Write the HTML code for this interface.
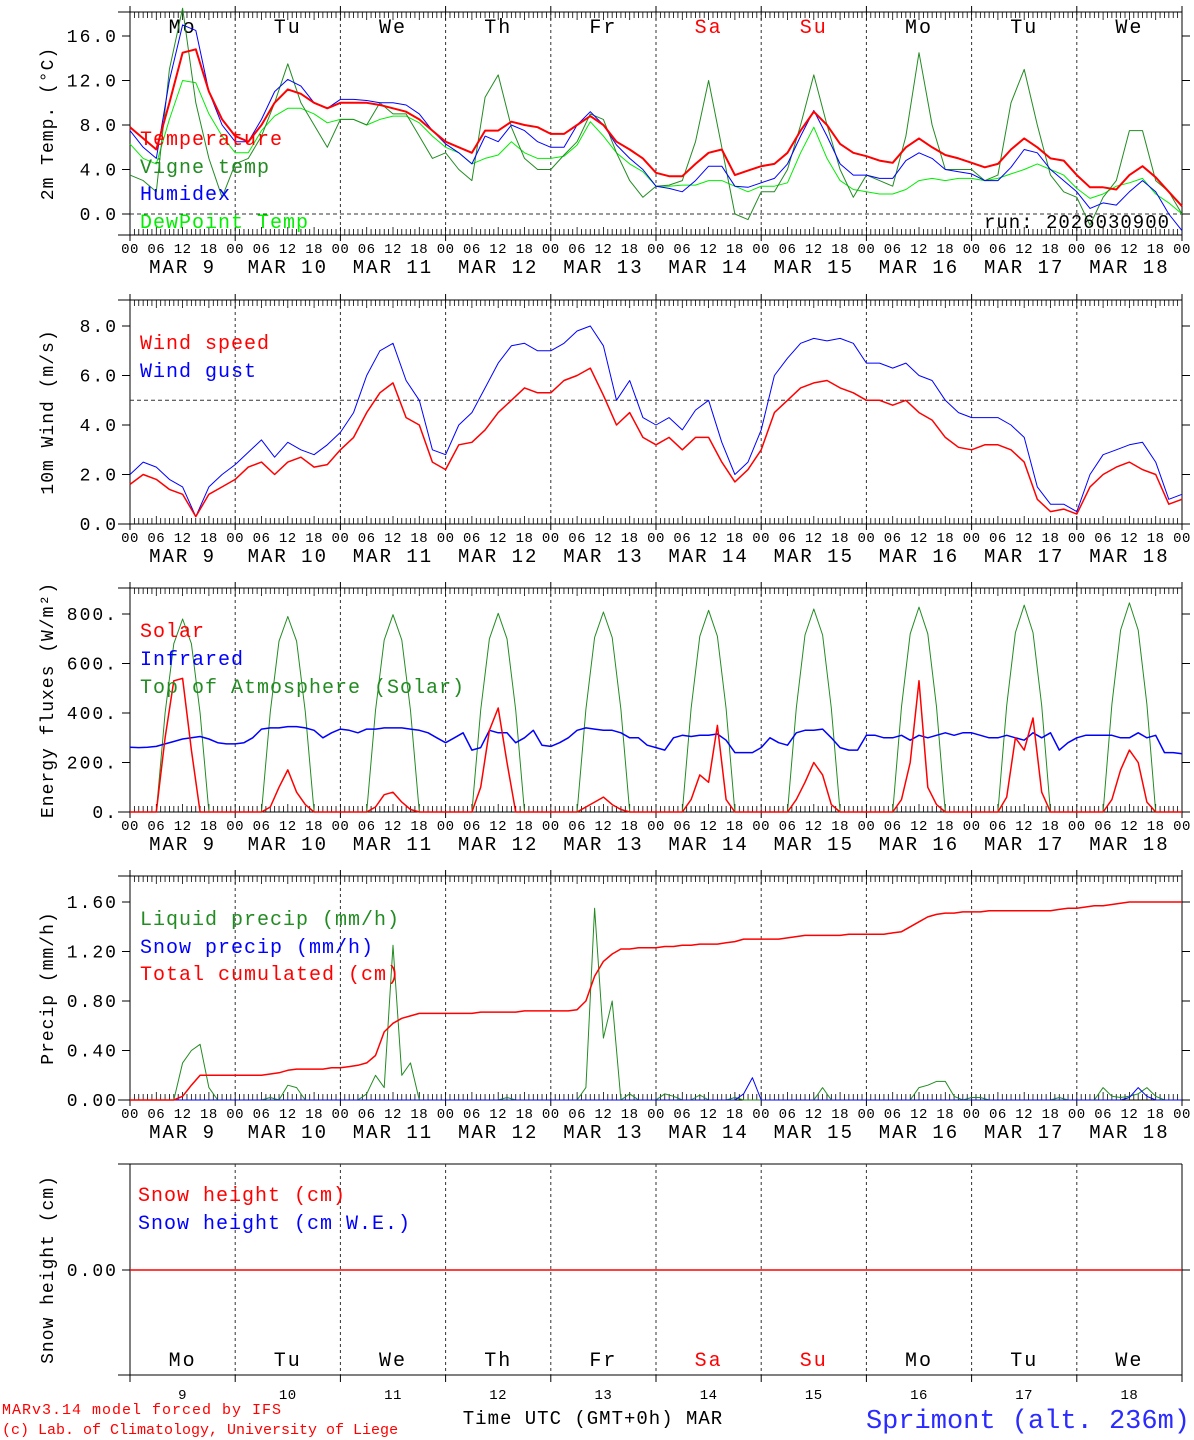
<!DOCTYPE html>
<html><head><meta charset="utf-8"><style>
html,body{margin:0;padding:0;background:#fff;}
svg{display:block;font-family:"Liberation Mono","DejaVu Sans Mono",monospace;}
text{letter-spacing:2px;}
text.lg{letter-spacing:1px;}
text.hl{letter-spacing:0.5px;}
text.n0{letter-spacing:0;}
text.f1{letter-spacing:1px;}
</style></head><body>
<svg id="c" width="1194" height="1440" viewBox="0 0 1194 1440" xmlns="http://www.w3.org/2000/svg"></svg>
<script>
// ---- data (3-hourly, from MAR 9 00 UTC) ----
const tempVals=[7.8,6.8,5.8,10,14.5,14.8,11,8.5, 7.0,6.5,8.0,10.0,11.2,10.8,10.0,9.5, 10.0,10.0,10.0,9.8,9.5,9.2,8.5,7.5, 6.5,6.0,5.5,7.5,7.5,8.3,8.0,7.8, 7.2,7.2,8.0,8.8,8.0,6.5,5.8,5.0, 3.7,3.4,3.4,4.5,5.5,5.8,3.5,3.9, 4.3,4.5,5.5,7.5,9.2,8.0,6.3,5.5, 5.2,4.8,4.6,6.0,6.8,6.0,5.3,5.0, 4.6,4.2,4.5,5.8,6.8,6.0,5.0,4.8, 3.5,2.4,2.4,2.2,3.5,4.3,3.3,2.0,0.7];
const vigneVals=[3.5,3,2,13,18.5,10,5,1.5, 4.5,5,7,10,13.5,10,8,6, 8.5,8.5,8,10,9,9,7,5, 5.5,4,3,10.5,12.5,7.8,5,4, 4,5.3,6.5,9,8.5,5.5,3,1.5, 2.5,2.6,3,6.5,12,6,0,-0.5, 2,2,4,8,12.5,8,4,1.5, 3.5,3,2.5,7,14.5,8,4,4, 4,3,3.5,10,13,8,3.5,2, 1.5,-1,1.5,3,7.5,7.5,3,2,0];
const humidexVals=[7.5,6,5,12,17,16.5,11,8, 6.5,6.5,8.5,11,12.1,11.5,10,9.5, 10.3,10.3,10.2,10,10,9.8,9,7.5, 6.3,5.5,4.5,7,6.5,8,7.5,6.5, 6,6,8,9.2,8,6.2,5,4, 2.5,2.3,2.0,3,4.3,4.3,2.5,2.4, 2.8,3.2,4.5,7,9.3,7,4.5,3.5, 3.5,3.2,3.2,4.8,5.5,5,4,3.8, 3.6,3,3,4.2,5.8,5.5,4,3, 2,0.5,1.0,0.8,2,3,2.0,0,-1.5];
const dewVals=[6.3,5,4.5,8.5,12,11.8,9,7, 5.5,5.5,7.5,8.8,9.5,9.5,9,8.2, 8.5,8.5,8,8.5,8.8,8.8,8.2,7, 6,5.5,4.5,5,5.3,6.5,5.5,5, 5,5.2,6.2,8.3,7,5.5,4.5,3.8, 2.5,2.5,2.6,2.6,3,3,2.5,2.0, 2.5,2.5,2.8,5.5,7.8,5,3,2.2, 2,1.8,1.8,2.2,3,3.2,3,3.2, 3.2,3.0,3.2,3.6,4.0,4.5,4.0,3.5, 2.3,1.4,1.8,2.5,2.8,3.2,1.8,1.0,0.0];
const windVals=[1.6,2.0,1.8,1.4,1.2,0.3,1.2,1.5, 1.8,2.3,2.5,2.0,2.5,2.7,2.3,2.4, 3.0,3.5,4.5,5.3,5.7,4.3,4.0,2.5, 2.2,3.2,3.3,3.8,4.5,5.0,5.5,5.3, 5.3,5.8,6.0,6.3,5.2,4.0,4.5,3.5, 3.2,3.5,3.0,3.5,3.5,2.5,1.7,2.2, 3.0,4.5,5.0,5.5,5.7,5.8,5.5,5.3, 5.0,5.0,4.8,5.0,4.5,4.2,3.5,3.1, 3.0,3.2,3.2,3.0,2.5,1.0,0.5,0.6, 0.4,1.5,2.0,2.3,2.5,2.2,2.0,0.8,1.0];
const gustVals=[2.0,2.5,2.3,1.8,1.5,0.3,1.5,2.0, 2.4,2.9,3.4,2.7,3.3,3.0,2.8,3.2, 3.7,4.5,6.0,7.0,7.3,5.8,5.0,3.0, 2.8,4.0,4.5,5.5,6.5,7.2,7.3,7.0, 7.0,7.3,7.8,8.0,7.2,5.0,5.8,4.3, 4.0,4.3,3.8,4.6,5.0,3.3,2.0,2.5, 3.8,6.0,6.7,7.3,7.5,7.4,7.5,7.3, 6.5,6.5,6.3,6.5,6.0,5.8,5.0,4.5, 4.3,4.3,4.3,4.0,3.5,1.5,0.8,0.8, 0.5,2.0,2.8,3.0,3.2,3.3,2.5,1.0,1.2];
// ---- data (2-hourly) ----
const toaVals=[0,0,0,0,400,680,780,680,400,0,0,0, 0,0,0,0,405,690,790,690,405,0,0,0, 0,0,0,0,410,695,797,695,410,0,0,0, 0,0,0,0,412,700,803,700,412,0,0,0, 0,0,0,0,415,705,808,705,415,0,0,0, 0,0,0,0,418,710,815,710,418,0,0,0, 0,0,0,0,420,715,820,715,420,0,0,0, 0,0,0,0,425,720,828,720,425,0,0,0, 0,0,0,0,430,725,836,725,430,0,0,0, 0,0,0,0,435,735,845,735,435,0,0,0,0];
const solarVals=[0,0,0,0,300,530,540,250,0,0,0,0, 0,0,0,0,20,100,170,80,30,0,0,0, 0,0,0,0,20,70,80,40,10,0,0,0, 0,0,0,0,100,330,420,200,0,0,0,0, 0,0,0,0,20,40,60,30,10,0,0,0, 0,0,0,0,50,150,120,350,50,0,0,0, 0,0,0,0,50,120,200,150,30,0,0,0, 0,0,0,0,50,200,530,100,30,0,0,0, 0,0,0,0,60,300,250,380,80,0,0,0, 0,0,0,0,50,170,250,200,40,0,0,0,0];
const irVals=[262,260,262,265,275,285,295,300,305,295,280,275, 275,280,300,335,340,340,345,345,340,330,300,320, 335,330,320,335,335,340,340,340,335,330,320,300, 280,300,320,250,260,330,320,320,280,300,330,270, 265,280,300,330,340,335,330,330,320,300,300,270, 260,250,300,310,305,310,310,315,290,240,240,240, 260,300,280,270,320,330,330,335,300,260,250,250, 310,310,300,300,310,290,310,300,310,320,310,320, 320,310,300,300,310,300,290,320,300,320,250,280, 300,310,310,310,310,300,300,320,300,310,240,240,235];
const liquidVals=[0,0,0,0,0,0,0.3,0.4,0.45,0.1,0,0, 0,0,0,0,0.02,0,0.12,0.1,0,0,0,0, 0,0,0,0.05,0.2,0.1,1.25,0.2,0.3,0,0,0, 0,0,0,0,0,0,0,0.02,0,0,0,0, 0,0,0,0,0.1,1.55,0.5,0.8,0,0.05,0,0, 0,0.05,0.03,0,0,0.04,0,0,0,0.02,0,0, 0,0,0,0,0,0,0,0.1,0,0,0,0, 0,0,0,0,0,0,0.1,0.12,0.15,0.15,0.03,0, 0.02,0.02,0,0,0,0,0,0,0,0,0.02,0, 0,0,0,0.1,0.03,0.02,0.03,0.05,0.1,0.03,0,0,0];
const snowPrecipVals=[0,0,0,0,0,0,0,0,0,0,0,0, 0,0,0,0,0,0,0,0,0,0,0,0, 0,0,0,0,0,0,0,0,0,0,0,0, 0,0,0,0,0,0,0,0,0,0,0,0, 0,0,0,0,0,0,0,0,0,0,0,0, 0,0,0,0,0,0,0,0,0,0,0.05,0.18, 0,0,0,0,0,0,0,0,0,0,0,0, 0,0,0,0,0,0,0,0,0,0,0,0, 0,0,0,0,0,0,0,0,0,0,0,0, 0,0,0,0,0,0,0.02,0.1,0.03,0,0,0,0];
const cumVals=[0,0,0,0,0,0,0.03,0.12,0.2,0.2,0.2,0.2, 0.2,0.2,0.2,0.2,0.21,0.22,0.24,0.25,0.25,0.25,0.25,0.26, 0.26,0.27,0.28,0.3,0.36,0.55,0.62,0.66,0.68,0.7,0.7,0.7, 0.7,0.7,0.7,0.7,0.71,0.71,0.71,0.71,0.71,0.72,0.72,0.72, 0.72,0.72,0.72,0.73,0.8,1.0,1.12,1.18,1.22,1.22,1.23,1.23, 1.23,1.24,1.24,1.25,1.25,1.26,1.26,1.26,1.27,1.28,1.3,1.3, 1.3,1.3,1.3,1.31,1.32,1.33,1.33,1.33,1.33,1.33,1.34,1.34, 1.34,1.34,1.34,1.35,1.36,1.4,1.44,1.48,1.5,1.51,1.51,1.52, 1.52,1.52,1.53,1.53,1.53,1.53,1.53,1.53,1.53,1.53,1.54,1.55, 1.55,1.56,1.57,1.57,1.58,1.59,1.6,1.6,1.6,1.6,1.6,1.6,1.6];
const snowHeightVals=[0,0];
const dayNames=["Mo","Tu","We","Th","Fr","Sa","Su","Mo","Tu","We"];
const dayNums=["9","10","11","12","13","14","15","16","17","18"];
const hourLabels=["00","06","12","18"];
const tempTicks=[0,4,8,12,16], tempTickLabels=["0.0","4.0","8.0","12.0","16.0"];
const windTicks=[0,2,4,6,8], windTickLabels=["0.0","2.0","4.0","6.0","8.0"];
const fluxTicks=[0,200,400,600,800], fluxTickLabels=["0.","200.","400.","600.","800."];
const precipTicks=[0,0.4,0.8,1.2,1.6], precipTickLabels=["0.00","0.40","0.80","1.20","1.60"];

const NS="http://www.w3.org/2000/svg";
const svg=document.getElementById('c');
const X0=130,X1=1182;
function xh(h){return X0+h*(X1-X0)/240;}
function el(tag,attrs,parent){const e=document.createElementNS(NS,tag);for(const k in attrs)e.setAttribute(k,attrs[k]);(parent||svg).appendChild(e);return e;}
function txt(s,x,y,size,fill,anchor,parent){const t=el('text',{x:x,y:y,'font-size':size,fill:fill,'text-anchor':anchor||'start'},parent);t.textContent=s;return t;}

function panel(name,top,bot,yfn,ticks,tickLabels,title,showTop,hourAxis){
  const g=el('g',{});
  
  
  el('line',{x1:118,y1:top,x2:X1,y2:top,stroke:'#000','stroke-width':1},g);
  el('line',{x1:118,y1:bot,x2:X1,y2:bot,stroke:'#000','stroke-width':1},g);
  el('line',{x1:X0,y1:top,x2:X0,y2:bot,stroke:'#000','stroke-width':1},g);
  el('line',{x1:X1,y1:top,x2:X1,y2:bot,stroke:'#000','stroke-width':1},g);
  for(let d=1;d<10;d++){const x=xh(d*24);el('line',{x1:x,y1:top,x2:x,y2:bot,stroke:'#333','stroke-width':1,'stroke-dasharray':'3,3'},g);}
  if(hourAxis){
    for(let h=0;h<=240;h++){const x=xh(h);
      el('line',{x1:x,y1:top,x2:x,y2:top+(h%6==0?8:6),stroke:'#000','stroke-width':0.8},g);
      el('line',{x1:x,y1:bot,x2:x,y2:bot-(h%6==0?8:6),stroke:'#000','stroke-width':0.8},g);
      if(h%24==0){el('line',{x1:x,y1:bot,x2:x,y2:bot+6,stroke:'#000','stroke-width':1},g);el('line',{x1:x,y1:top,x2:x,y2:top-6,stroke:'#000','stroke-width':1},g);}
      if(h%6==0){const t=txt(hourLabels[(h%24)/6],x,bot+18,14,'#000','middle',g);
        t.setAttribute('class','hl');
        
        }
    }
    for(let d=0;d<10;d++){const t=txt('MAR '+(dayNums[d].length<2?' ':'')+dayNums[d],xh(d*24+12),bot+38,19,'#000','middle',g);
      
      }
  }
  ticks.forEach((v,i)=>{const y=yfn(v);
    el('line',{x1:X0-8,y1:y,x2:X0,y2:y,stroke:'#000'},g);
    el('line',{x1:X1,y1:y,x2:X1+8,y2:y,stroke:'#000'},g);
    const t=txt(tickLabels[i],X0-12,y+6,18,'#000','end',g);
    
    
  });
  const cy=(top+bot)/2;
  const tt=txt(title,0,0,18,'#000','middle',g);
  tt.setAttribute('class','f1');
  tt.setAttribute('transform','translate(53,'+cy+') rotate(-90)');
  
  
  return g;
}
function series(vals,step,yfn,color,name,w){
  let d='';vals.forEach((v,i)=>{d+=(i?'L':'M')+xh(i*step).toFixed(1)+','+yfn(v).toFixed(1);});
  const p=el('path',{d:d,fill:'none',stroke:color,'stroke-width':w||1,'stroke-linejoin':'round'});
  
  
  return p;
}
function legend(s,x,y,color,name){const t=txt(s,x,y,20,color,'start');
  t.setAttribute('class','lg');
  
  }

// Panel 1
const y1=v=>214-v*11.125;
panel('temperature',12,235,y1,tempTicks,tempTickLabels,'2m Temp. (°C)',true,true);
el('line',{x1:X0,y1:y1(0),x2:X1,y2:y1(0),stroke:'#333','stroke-dasharray':'4,3'});
dayNames.forEach((n,d)=>{const t=txt(n,xh(d*24+12),33,20,(n=='Sa'||n=='Su')?'#f00':'#000','middle');
  
  });
series(dewVals,3,y1,'#00ee00','dewpoint-line');
series(vigneVals,3,y1,'#228b22','vigne-temp-line');
series(humidexVals,3,y1,'#0000ff','humidex-line');
series(tempVals,3,y1,'#ff0000','temperature-line',2);
legend('Temperature',140,145,'#f00','legend-temperature');
legend('Vigne temp',140,173,'#228b22','legend-vigne-temp');
legend('Humidex',140,200,'#00f','legend-humidex');
legend('DewPoint Temp',140,228,'#0e0','legend-dewpoint');
{const t=txt('run: 2026030900',1170,228,19,'#000','end');t.setAttribute('class','f1');}

// Panel 2
const y2=v=>524-v*24.75;
panel('wind',300,524,y2,windTicks,windTickLabels,'10m Wind (m/s)',true,true);
el('line',{x1:X0,y1:y2(5),x2:X1,y2:y2(5),stroke:'#333','stroke-dasharray':'4,3'});
series(gustVals,3,y2,'#0000ff','wind-gust-line');
series(windVals,3,y2,'#ff0000','wind-speed-line',1.5);
legend('Wind speed',140,349,'#f00','legend-wind-speed');
legend('Wind gust',140,377,'#00f','legend-wind-gust');

// Panel 3
const y3=v=>812-v*0.2475;
panel('energy',588,812,y3,fluxTicks,fluxTickLabels,'Energy fluxes (W/m²)',true,true);
series(toaVals,2,y3,'#228b22','toa-solar-line');
series(irVals,2,y3,'#0000ff','infrared-line',1.5);
series(solarVals,2,y3,'#ff0000','solar-line',1.5);
legend('Solar',140,637,'#f00','legend-solar');
legend('Infrared',140,665,'#00f','legend-infrared');
legend('Top of Atmosphere (Solar)',140,693,'#228b22','legend-toa');

// Panel 4
const y4=v=>1100-v*123.75;
panel('precip',876,1100,y4,precipTicks,precipTickLabels,'Precip (mm/h)',true,true);
series(liquidVals,2,y4,'#228b22','liquid-precip-line');
series(snowPrecipVals,2,y4,'#0000ff','snow-precip-line');
series(cumVals,2,y4,'#ff0000','total-cumulated-line',1.5);
legend('Liquid precip (mm/h)',140,925,'#228b22','legend-liquid');
legend('Snow precip (mm/h)',140,953,'#00f','legend-snow-precip');
legend('Total cumulated (cm)',140,980,'#f00','legend-total-cum');

// Panel 5
const y5=v=>1270-v*100;
{const g=panel('snow',1164,1375,y5,[0],['0.00'],'Snow height (cm)',false,false);
 for(let d=0;d<=10;d++){const x=xh(d*24);el('line',{x1:x,y1:1375,x2:x,y2:1382,stroke:'#000'},g);}
 dayNames.forEach((n,d)=>{const t=txt(n,xh(d*24+12),1366,20,(n=='Sa'||n=='Su')?'#f00':'#000','middle',g);
   
   
   const u=txt(dayNums[d],xh(d*24+12),1399,14,'#000','middle',g);
   u.setAttribute('class','hl');
   
   });
}
series(snowHeightVals,240,y5,'#ff0000','snow-height-line',1.5);
legend('Snow height (cm)',138,1201,'#f00','legend-snow-height');
legend('Snow height (cm W.E.)',138,1229,'#00f','legend-snow-we');

// Footer
{let t=txt('MARv3.14 model forced by IFS',2,1414,15,'#f00');t.setAttribute('class','f1');
 t=txt('(c) Lab. of Climatology, University of Liege',2,1434,15,'#f00');t.setAttribute('class','n0');
 t=txt('Time UTC (GMT+0h) MAR',593,1424,19,'#000','middle');t.setAttribute('class','f1');
 t=txt('Sprimont (alt. 236m)',1190,1428,27,'#2b2bff','end');t.setAttribute('class','n0');}
</script>
</body></html>
